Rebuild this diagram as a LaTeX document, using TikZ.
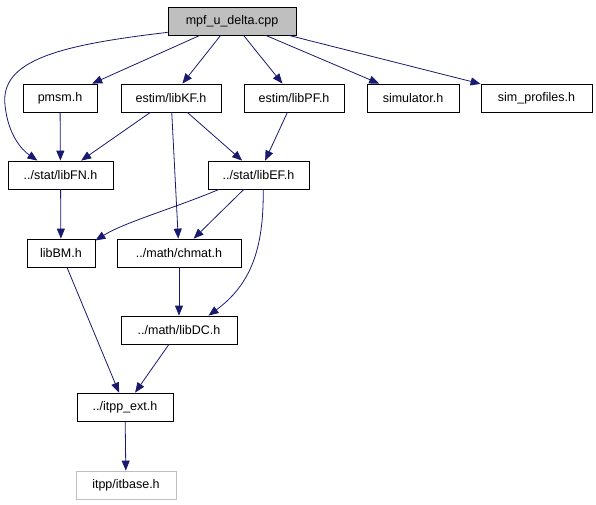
\documentclass[tikz,border=0pt]{standalone}
\usepackage{fontspec}
\setmainfont{Liberation Sans}
\usetikzlibrary{arrows.meta,positioning}
\definecolor{edgeblue}{HTML}{191970}
\definecolor{boxgray}{HTML}{BFBFBF}
\tikzset{
  file/.style={draw=black, line width=0.8pt, minimum height=28pt, inner sep=0pt, font=\fontsize{12.5}{14}\selectfont},
  dep/.style={draw=edgeblue, line width=0.8pt, -{Triangle[length=10pt,width=8pt]}}
}
\begin{document}
\begin{tikzpicture}[x=1pt,y=-1pt]
		\useasboundingbox (0,0) rectangle (596,504);

		% Bestanden
		\node[file, fill=boxgray, minimum width=128pt] (main) at (232,21) {mpf\_u\_delta.cpp};
		\node[file, minimum width=74pt] (pmsm) at (60,98) {pmsm.h};
		\node[file, minimum width=100pt] (libKF) at (171,98) {estim/libKF.h};
		\node[file, minimum width=100pt] (libPF) at (294,98) {estim/libPF.h};
		\node[file, minimum width=92pt] (simulator) at (413,98) {simulator.h};
		\node[file, minimum width=111pt] (simprof) at (536.5,98) {sim\_profiles.h};
		\node[file, minimum width=105pt] (libFN) at (60.5,175) {../stat/libFN.h};
		\node[file, minimum width=101pt] (libEF) at (258.5,175) {../stat/libEF.h};
		\node[file, minimum width=68pt] (libBM) at (61,253) {libBM.h};
		\node[file, minimum width=124pt] (chmat) at (179,253) {../math/chmat.h};
		\node[file, minimum width=116pt] (libDC) at (179,330) {../math/libDC.h};
		\node[file, minimum width=96pt] (itppext) at (125,407) {../itpp\_ext.h};
		\node[file, draw=boxgray, minimum width=100pt] (itbase) at (126,485) {itpp/itbase.h};

		% Includes van mpf_u_delta.cpp
		\draw[dep] (main.190) .. controls (60,45) and (0,60) .. (5,105) .. controls (8,135) and (22,150) .. (libFN.148);
		\draw[dep] (main) -- (pmsm);
		\draw[dep] (main) -- (libKF);
		\draw[dep] (main) -- (libPF);
		\draw[dep] (main) -- (simulator);
		\draw[dep] (main) -- (simprof);

		% Tweede laag
		\draw[dep] (pmsm) -- (libFN);
		\draw[dep] (libKF) -- (libFN);
		\draw[dep] (libKF) -- (libEF);
		\draw[dep] (libKF) -- (chmat);
		\draw[dep] (libPF) -- (libEF);

		% Derde laag
		\draw[dep] (libFN) -- (libBM);
		\draw[dep] (libEF.200) .. controls (175,208) and (125,222) .. (libBM.20);
		\draw[dep] (libEF) -- (chmat);
		\draw[dep] (libEF.-72) .. controls (264,250) and (250,285) .. (libDC.26);
		\draw[dep] (chmat) -- (libDC);

		% Onderste laag
		\draw[dep] (libBM) -- (itppext);
		\draw[dep] (libDC) -- (itppext);
		\draw[dep] (itppext) -- (itbase);

	\end{tikzpicture}
\end{document}
